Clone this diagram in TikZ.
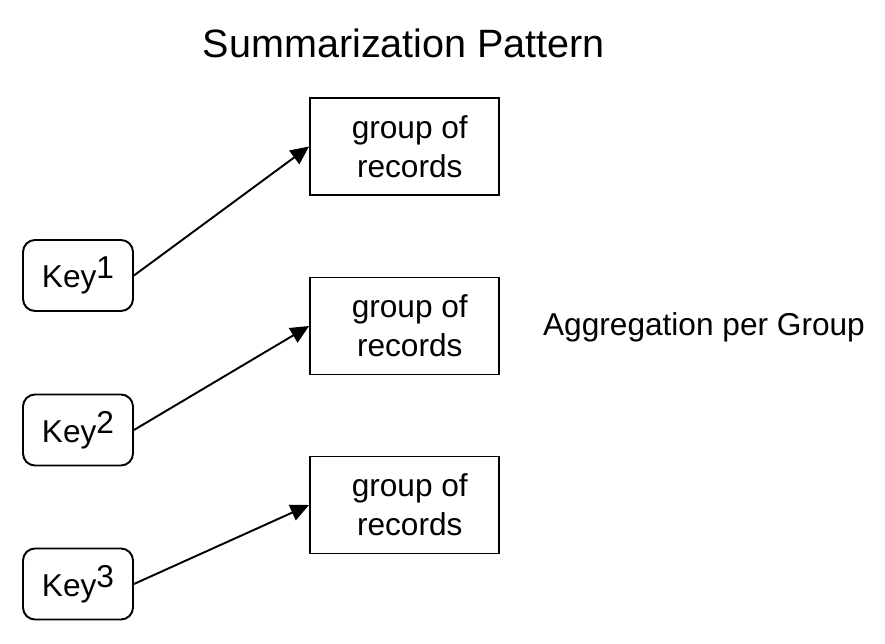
\documentclass[tikz,border=0pt]{standalone}
\usepackage{fontspec}
\setmainfont{Liberation Sans}
\usetikzlibrary{arrows.meta}

\begin{document}
\begin{tikzpicture}[
  keybox/.style={draw, line width=1.1pt, rounded corners=0.24cm, minimum width=2.2cm, minimum height=1.42cm, inner sep=0pt, font=\fontsize{18}{22}\selectfont},
  groupbox/.style={draw, line width=1.1pt, minimum width=3.78cm, minimum height=1.94cm, inner sep=0pt, align=center, font=\fontsize{18}{22}\selectfont},
  link/.style={line width=1.1pt, arrows={-Triangle[length=10.5pt, width=9.5pt]}},
]
\def\u{0.02cm}

\useasboundingbox (0, 0) rectangle (885*\u, -644*\u);

\node (title) at (404*\u, -43*\u) {\fontsize{22.5}{27}\selectfont Summarization Pattern};

\node (k1) [keybox] at (78*\u, -275.5*\u) {Key\raisebox{5pt}{1}};
\node (k2) [keybox] at (78*\u, -430*\u) {Key\raisebox{5pt}{2}};
\node (k3) [keybox] at (78*\u, -584*\u) {Key\raisebox{5pt}{3}};

\node (g1) [groupbox] at (404.5*\u, -146.5*\u) {\hspace*{6pt}group of\\\hspace*{6pt}records};
\node (g2) [groupbox] at (404.5*\u, -326*\u) {\hspace*{6pt}group of\\\hspace*{6pt}records};
\node (g3) [groupbox] at (404.5*\u, -505*\u) {\hspace*{6pt}group of\\\hspace*{6pt}records};

\node (agg) at (704*\u, -327*\u) {\fontsize{18}{22}\selectfont Aggregation per Group};

\draw [link] (k1.east) -- (g1.west);
\draw [link] (k2.east) -- (g2.west);
\draw [link] (k3.east) -- (g3.west);
\end{tikzpicture}
\end{document}
